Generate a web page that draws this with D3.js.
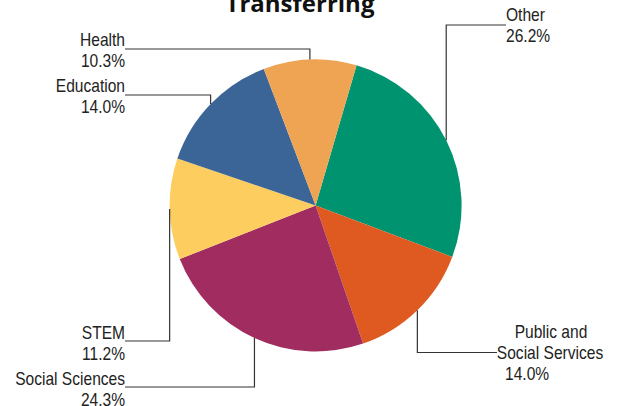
<!DOCTYPE html>
<html><head><meta charset="utf-8">
<script src="https://cdn.jsdelivr.net/npm/d3@7"></script>
<style>
html,body{margin:0;padding:0;background:#fff;}
svg{display:block;}
.lbl{font-family:"Liberation Sans Narrow","Arial Narrow","Liberation Sans",sans-serif;font-size:17.5px;fill:#222;}
</style></head>
<body>
<svg id="chart" width="620" height="406"></svg>
<script>
// Data (clockwise from the Other slice)
const categories = ["Other", "Public and Social Services", "Social Sciences", "STEM", "Education", "Health"];
const values = [26.2, 14.0, 24.3, 11.2, 14.0, 10.3];
const valueLabels = ["26.2%", "14.0%", "24.3%", "11.2%", "14.0%", "10.3%"];
const colors = ["#00936f", "#df5a20", "#a12d60", "#fdcd5f", "#3b6597", "#eea453"];

// Label layout
const labelLayout = [
  {lines:["Other","26.2%"], xs:[506,506], anchors:["start","start"], y:21, ly:25, lx:506},
  {lines:["Public and","Social Services","14.0%"], xs:[551,550,505], anchors:["middle","middle","start"], y:338, ly:352.5, lx:497},
  {lines:["Social Sciences","24.3%"], xs:[125,125], anchors:["end","end"], y:385, ly:387, lx:125},
  {lines:["STEM","11.2%"], xs:[125,125], anchors:["end","end"], y:339, ly:341, lx:125},
  {lines:["Education","14.0%"], xs:[125,125], anchors:["end","end"], y:92, ly:95, lx:125},
  {lines:["Health","10.3%"], xs:[125,125], anchors:["end","end"], y:46, ly:49, lx:125}
];

const W = 620, H = 406;
const cx = 315.6, cy = 205.5, R = 146;
const narrow = 0.89;
const svg = d3.select("#chart");

const startDeg = 16.3;
const pie = d3.pie().sort(null).value(d => d)
  .startAngle(startDeg * Math.PI / 180)
  .endAngle((startDeg + 360) * Math.PI / 180);
const arcs = pie(values);
const arc = d3.arc().innerRadius(0).outerRadius(R);

const g = svg.append("g").attr("transform", `translate(${cx},${cy})`);
g.selectAll("path").data(arcs).join("path")
  .attr("d", arc)
  .attr("fill", (d, i) => colors[i]);

// Leader lines
arcs.forEach((d, i) => {
  const L = labelLayout[i];
  const a = (d.startAngle + d.endAngle) / 2;
  const px = cx + R * Math.sin(a), py = cy - R * Math.cos(a);
  svg.append("path")
    .attr("d", `M${px},${py}V${L.ly}H${L.lx}`)
    .attr("fill", "none").attr("stroke", "#333").attr("stroke-width", 1.2);
});

// Labels (horizontally condensed)
labelLayout.forEach((L) => {
  L.lines.forEach((s, k) => {
    svg.append("text").attr("class", "lbl")
      .attr("text-anchor", L.anchors[k])
      .attr("transform", `translate(${L.xs[k]},${L.y + k * 21}) scale(${narrow},1)`)
      .text(s);
  });
});

// Title
svg.append("text")
  .attr("x", 300).attr("y", 12)
  .attr("text-anchor", "middle")
  .attr("font-family", "'Open Sans', sans-serif")
  .attr("font-weight", "bold")
  .attr("font-size", 24)
  .attr("fill", "#111")
  .text("Transferring");
</script>
</body></html>
